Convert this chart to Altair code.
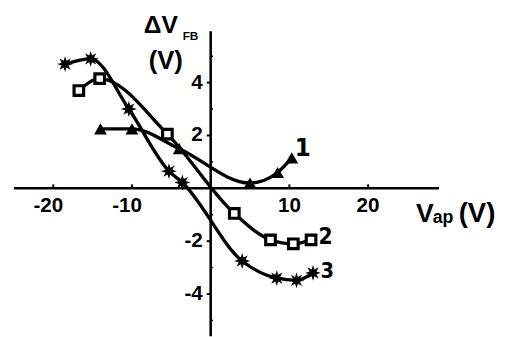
import altair as alt
import pandas as pd

# curve 1 (filled triangles)
x1 = [-14, -10, -4, 5, 8.5, 10.3]
y1 = [2.25, 2.25, 1.5, 0.2, 0.6, 1.15]
# curve 2 (open squares)
x2 = [-16.75, -14.1, -5.5, 3.0, 7.6, 10.5, 12.75]
y2 = [3.7, 4.15, 2.05, -0.95, -1.95, -2.1, -1.95]
# curve 3 (stars)
x3 = [-18.5, -15.25, -10.4, -5.3, -3.6, 4.0, 8.4, 10.9, 13.0]
y3 = [4.7, 4.9, 3.0, 0.65, 0.22, -2.75, -3.4, -3.48, -3.2]

x_ticks = [-20, -10, 10, 20]
x_tick_labels = ["-20", "-10", "10", "20"]
y_ticks = [-4, -2, 2, 4]
y_tick_labels = ["-4", "-2", "2", "4"]
y_minor = [-5, -3, -1, 1, 3, 5]

XMIN, XMAX = -25, 29
YMIN, YMAX = -5.6, 5.94

df = pd.concat([
    pd.DataFrame({"x": x1, "y": y1, "s": "1"}),
    pd.DataFrame({"x": x2, "y": y2, "s": "2"}),
    pd.DataFrame({"x": x3, "y": y3, "s": "3"}),
])
d1 = pd.DataFrame({"x": x1, "y": y1})
d2 = pd.DataFrame({"x": x2, "y": y2})
d3 = pd.DataFrame({"x": x3, "y": y3})

XS = alt.Scale(domain=[XMIN, XMAX], nice=False, zero=False)
YS = alt.Scale(domain=[YMIN, YMAX], nice=False, zero=False)

def X(f="x"):
    return alt.X(f + ":Q", scale=XS, axis=None)

def Y(f="y"):
    return alt.Y(f + ":Q", scale=YS, axis=None)

FONT = "Liberation Sans"
NARROW = "DejaVu Sans Condensed, Liberation Sans"

lines = alt.Chart(df).mark_line(interpolate="monotone", color="black", strokeWidth=3.4).encode(
    x=X(), y=Y(), detail="s:N")

tri = alt.Chart(d1).mark_point(shape="triangle-up", filled=True, color="black", size=170, opacity=1).encode(x=X(), y=Y())
sq = alt.Chart(d2).mark_point(shape="square", filled=True, fill="white", stroke="black", strokeWidth=3.2, size=95, opacity=1).encode(x=X(), y=Y())
STAR = ("M0,-1L0.18,-0.43L0.707,-0.707L0.43,-0.18L1,0L0.43,0.18L0.707,0.707L0.18,0.43"
        "L0,1L-0.18,0.43L-0.707,0.707L-0.43,0.18L-1,0L-0.43,-0.18L-0.707,-0.707L-0.18,-0.43Z")
st = alt.Chart(d3).mark_point(shape=STAR, filled=True, color="black", size=260, opacity=1).encode(x=X(), y=Y())

ax = pd.DataFrame({"x": [XMIN, 0], "x2": [XMAX, 0], "y": [0, YMIN], "y2": [0, YMAX]})
axes = alt.Chart(ax).mark_rule(color="black", strokeWidth=2.6).encode(
    x=X(), x2="x2:Q", y=Y(), y2="y2:Q")

xt = pd.DataFrame({"x": x_ticks, "t": x_tick_labels, "y0": [0.0] * 4, "y1": [0.15] * 4, "ly": [-0.68] * 4})
yt = pd.DataFrame({"y": y_ticks, "t": y_tick_labels, "x0": [0.0] * 4, "x1": [-0.5] * 4})
ym = pd.DataFrame({"y": y_minor, "x0": [0.0] * 6, "x1": [0.3] * 6})

xtick_marks = alt.Chart(xt).mark_rule(color="black", strokeWidth=2).encode(x=X(), y=Y("y0"), y2="y1:Q")
ytick_marks = alt.Chart(yt).mark_rule(color="black", strokeWidth=2).encode(y=Y(), x=X("x0"), x2="x1:Q")
yminor_marks = alt.Chart(ym).mark_rule(color="black", strokeWidth=1.5).encode(y=Y(), x=X("x0"), x2="x1:Q")

TW = "bold"
xlab_neg = alt.Chart(xt[xt.x < 0]).mark_text(
    font=FONT, fontSize=21, fontWeight=TW, baseline="middle", align="center", dx=-5, color="black").encode(
    x=X(), y=Y("ly"), text="t:N")
xlab_pos = alt.Chart(xt[xt.x > 0]).mark_text(
    font=FONT, fontSize=21, fontWeight=TW, baseline="middle", align="center", color="black").encode(
    x=X(), y=Y("ly"), text="t:N")
ylab = alt.Chart(yt).mark_text(font=FONT, fontSize=21, fontWeight=TW, baseline="middle", align="right", dx=-8, color="black").encode(
    y=Y(), x=X("x0"), text="t:N")

def txt(x, y, s, size, weight="bold", align="left", baseline="alphabetic", font=FONT):
    return alt.Chart(pd.DataFrame({"x": [x], "y": [y], "t": [s]})).mark_text(
        font=font, fontSize=size, fontWeight=weight, align=align,
        baseline=baseline, color="black").encode(x=X(), y=Y(), text="t:N")

labels = [
    txt(-8.5, 5.87, "ΔV", 25),
    txt(-3.56, 5.6, "FB", 12),
    txt(-5.7, 4.81, "(V)", 26, align="center", baseline="middle"),
    txt(26.1, -1.27, "V", 27),
    txt(28.2, -1.31, "ap", 18),
    txt(31.5, -0.96, "(V)", 28, baseline="middle"),
    txt(11.7, 1.52, "1", 26, align="center", baseline="middle", font=NARROW),
    txt(14.6, -1.83, "2", 23, align="center", baseline="middle", font=NARROW),
    txt(14.8, -3.13, "3", 22, align="center", baseline="middle", font=NARROW),
]

chart = alt.layer(
    axes, xtick_marks, ytick_marks, yminor_marks, xlab_neg, xlab_pos, ylab,
    lines, tri, sq, st, *labels
).properties(
    width=432, height=310, autosize="none",
    padding={"left": 6, "top": 21, "right": 59, "bottom": 0},
).configure_view(stroke=None)

chart.save("out.html", embed_options={"renderer": "svg", "actions": False})
